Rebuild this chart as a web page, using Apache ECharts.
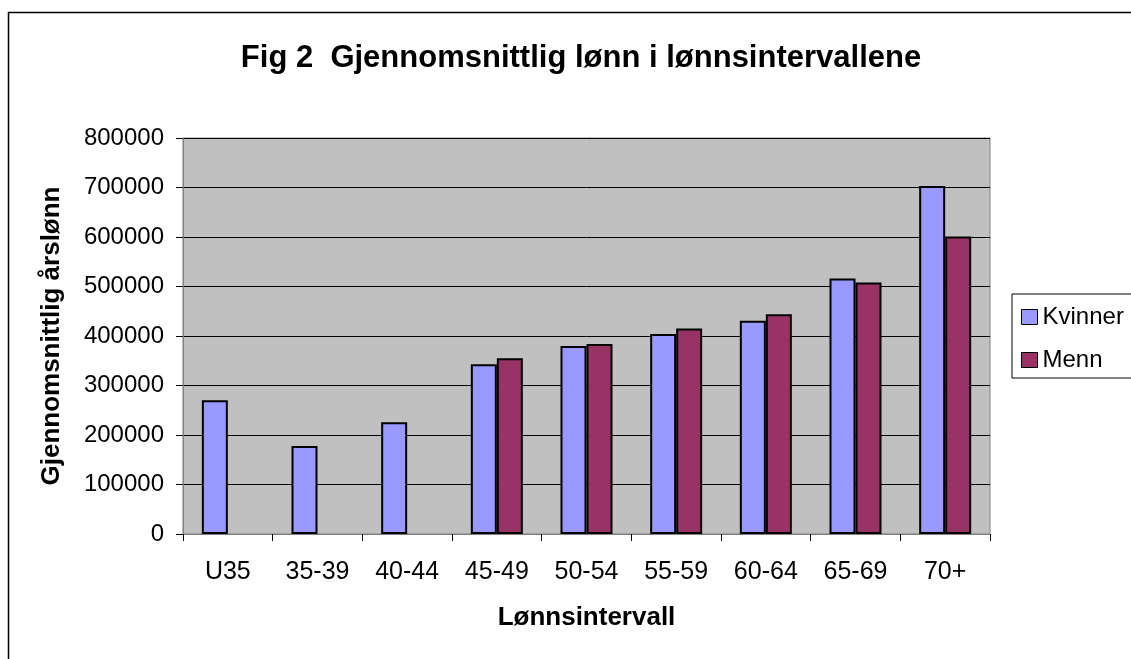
<!DOCTYPE html>
<html>
<head>
<meta charset="utf-8">
<script src="https://cdn.jsdelivr.net/npm/echarts@6/dist/echarts.min.js"></script>
<style>
html,body{margin:0;padding:0;background:#fff;}
#chart{width:1131px;height:659px;}
</style>
</head>
<body>
<div id="chart"></div>
<script>
const categories = ['U35','35-39','40-44','45-49','50-54','55-59','60-64','65-69','70+'];
const kvinner = [270000,178000,226000,343000,380000,404000,431000,516000,703000];
const menn = [null,null,null,355000,384000,415000,444000,508000,601000];
const yTicks = {min:0, max:800000, interval:100000};

const chart = echarts.init(document.getElementById('chart'));
const font = 'Liberation Sans, Arial, sans-serif';
chart.setOption({
  animation:false,
  backgroundColor:'#fff',
  graphic:[{
    type:'rect', shape:{x:8.5,y:12.5,width:1300,height:800},
    style:{fill:'none',stroke:'#000',lineWidth:1.5}, silent:true
  }],
  title:{
    text:'Fig 2  Gjennomsnittlig lønn i lønnsintervallene',
    left:576, textAlign:'center', top:38,
    textStyle:{fontFamily:font,fontSize:31,fontWeight:'bold',color:'#000'}
  },
  legend:{
    orient:'vertical', left:1012, top:294,
    borderColor:'#000', borderWidth:1,
    padding:[11,40,6,9], itemGap:19,
    itemWidth:16, itemHeight:15,
    icon:'rect',
    itemStyle:{borderColor:'#000',borderWidth:1},
    textStyle:{fontFamily:font,fontSize:24,lineHeight:24,color:'#000',padding:[0,0,0,0]},
    data:['Kvinner','Menn']
  },
  grid:{
    left:183, right:141, top:138, bottom:125,
    show:true, backgroundColor:'#C0C0C0', borderColor:'#808080', borderWidth:1
  },
  xAxis:{
    type:'category', data:categories,
    name:'Lønnsintervall', nameLocation:'middle', nameGap:71,
    nameTextStyle:{fontFamily:font,fontSize:26,fontWeight:'bold',color:'#000'},
    axisLine:{lineStyle:{color:'#808080',width:1}},
    axisTick:{show:true,length:7,lineStyle:{color:'#000'}},
    axisLabel:{fontFamily:font,fontSize:25,color:'#000',margin:26}
  },
  yAxis:{
    type:'value', min:yTicks.min, max:yTicks.max, interval:yTicks.interval,
    name:'Gjennomsnittlig årslønn', nameLocation:'middle', nameGap:118,
    nameTextStyle:{fontFamily:font,fontSize:26,fontWeight:'bold',color:'#000'},
    axisLine:{show:true,lineStyle:{color:'#808080',width:1}},
    axisTick:{show:true,length:7,lineStyle:{color:'#000'}},
    axisLabel:{fontFamily:font,fontSize:24,color:'#000',margin:19,formatter:function(v){return String(v);}},
    splitLine:{show:true,lineStyle:{color:'#000',width:1}}
  },
  series:[
    {name:'Kvinner', type:'bar', data:kvinner, barWidth:26, barGap:'0%',
     itemStyle:{color:'#9999FF',borderColor:'#000',borderWidth:2}},
    {name:'Menn', type:'bar', data:menn, barWidth:26, barGap:'0%',
     itemStyle:{color:'#993366',borderColor:'#000',borderWidth:2}}
  ]
});
</script>
</body>
</html>
